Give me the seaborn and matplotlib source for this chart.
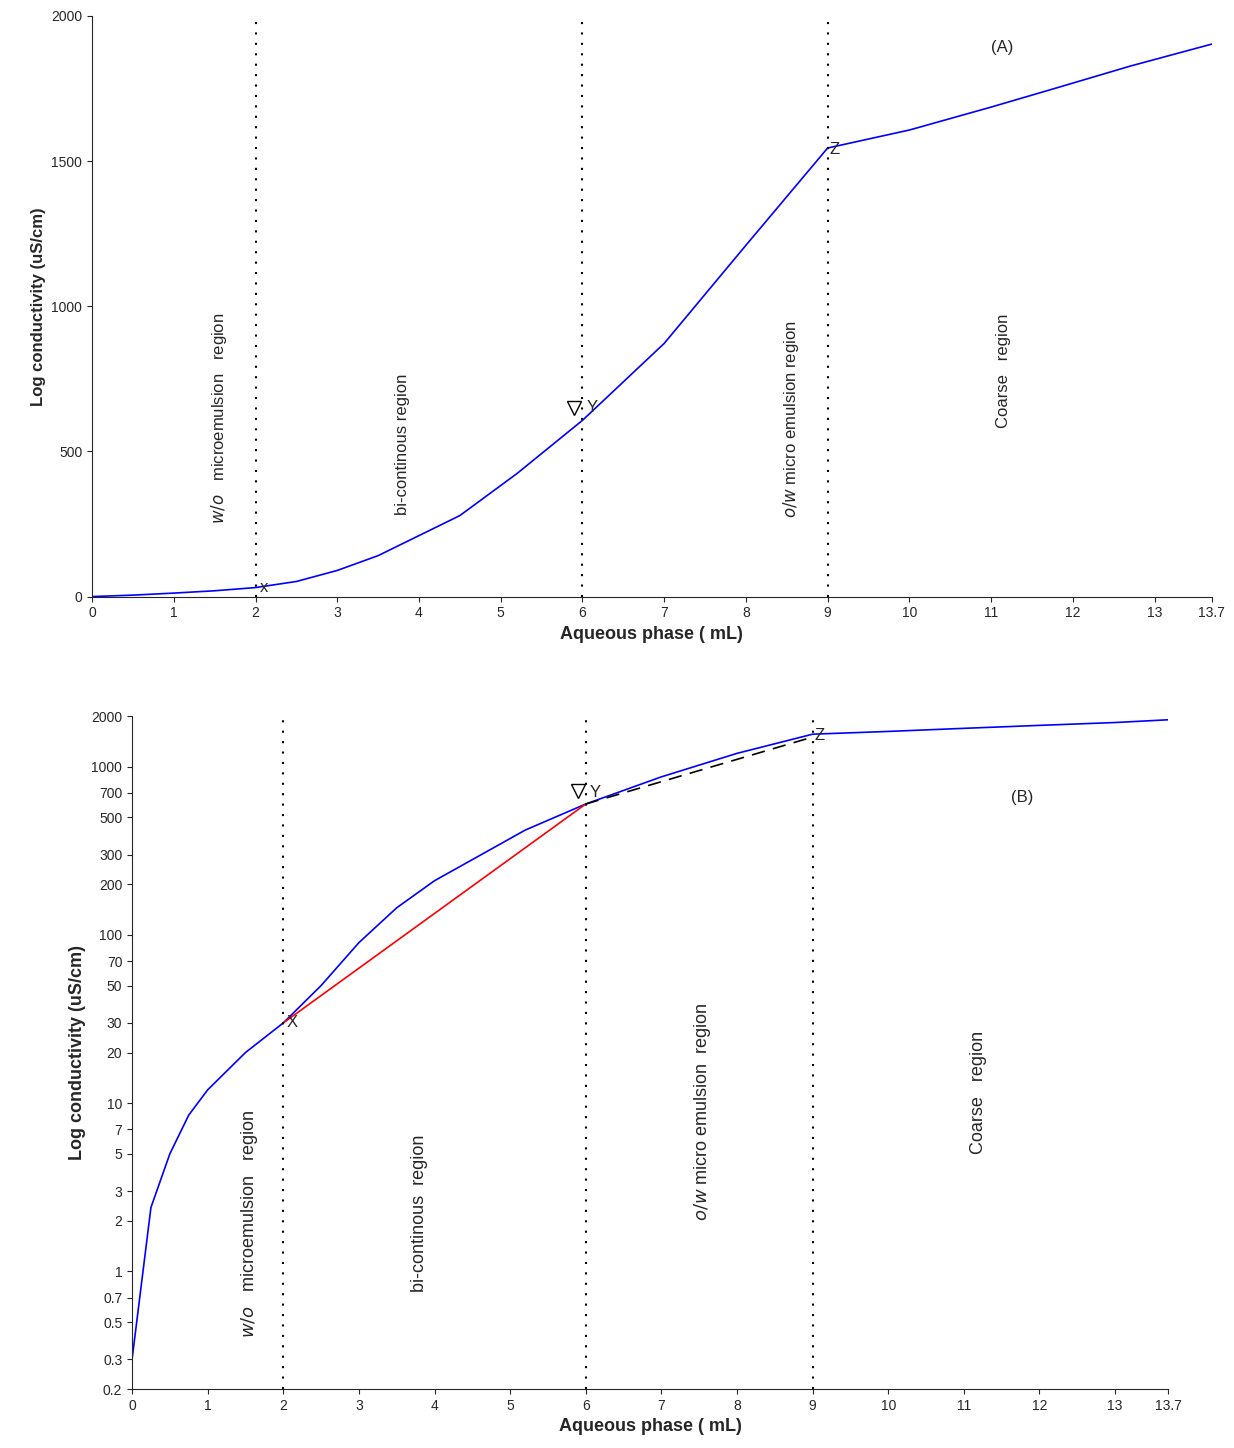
import matplotlib
matplotlib.use("Agg")
import matplotlib.pyplot as plt
import seaborn as sns
import pandas as pd

sns.set_style("ticks")
plt.rcParams['font.family'] = ['Liberation Sans', 'DejaVu Sans']

# data
aq_top = [0, 0.5, 1, 1.5, 2, 2.5, 3, 3.5, 4, 4.5, 5.2, 6, 7, 8, 9, 10, 11, 11.8, 12.7, 13.7]
cond_top = [0, 5, 12, 20, 31, 52, 90, 141, 210, 279, 424, 607, 872, 1210, 1545, 1607, 1686, 1752, 1827, 1903]

aq_bot = [0, 0.25, 0.5, 0.75, 1, 1.5, 2, 2.5, 3, 3.5, 4, 5.2, 6, 7, 8, 9, 10, 11, 12, 13, 13.7]
cond_bot = [0.3, 2.4, 5, 8.5, 12, 20, 30, 50, 90, 145, 210, 420, 600, 870, 1200, 1560, 1620, 1690, 1760, 1830, 1900]
red_x = [2, 6]
red_y = [30, 600]
dash_x = [6, 9]
dash_y = [600, 1500]

boundaries = [2, 6, 9]
xticks = list(range(0, 14)) + [13.7]
xticklabels = [str(i) for i in range(0, 14)] + ["13.7"]
log_ticks = [0.2, 0.3, 0.5, 0.7, 1, 2, 3, 5, 7, 10, 20, 30, 50, 70, 100, 200, 300, 500, 700, 1000, 2000]

fig = plt.figure(figsize=(12.34, 14.48), dpi=100)
ax1 = fig.add_axes([0.0746, 0.588, 0.9074, 0.401])
ax2 = fig.add_axes([0.107, 0.0407, 0.8395, 0.4648])

# panel A
sns.lineplot(x=aq_top, y=cond_top, ax=ax1, color="blue", lw=1.2)
ax1.set_xlim(0, 13.7)
ax1.set_ylim(0, 2000)
ax1.set_yticks([0, 500, 1000, 1500, 2000])
ax1.set_xticks(xticks)
ax1.set_xticklabels(xticklabels)
for b in boundaries:
    ax1.axvline(b, color="black", ls=(0, (1, 4)), lw=1.5)
ax1.set_xlabel("Aqueous phase ( mL)", fontsize=13, fontweight="bold")
ax1.set_ylabel("Log conductivity (uS/cm)", fontsize=12, fontweight="bold")
ax1.text(11.13, 1890, "(A)", fontsize=12, ha="center", va="center")
ax1.text(2.05, 30, "x", fontsize=12, va="center")
ax1.text(6.05, 650, "Y", fontsize=12, va="center")
ax1.plot([5.9], [650], marker="v", mfc="none", mec="black", ms=10)
ax1.text(9.02, 1540, "Z", fontsize=12, va="center")
ax1.text(1.55, 250, "$w/o$   microemulsion   region", rotation=90, fontsize=12, ha="center", va="bottom")
ax1.text(3.8, 280, "bi-continous region", rotation=90, fontsize=12, ha="center", va="bottom")
ax1.text(8.55, 270, "$o/w$ micro emulsion region", rotation=90, fontsize=12, ha="center", va="bottom")
ax1.text(11.15, 580, "Coarse   region", rotation=90, fontsize=12, ha="center", va="bottom")

# panel B
sns.lineplot(x=aq_bot, y=cond_bot, ax=ax2, color="blue", lw=1.2)
sns.lineplot(x=red_x, y=red_y, ax=ax2, color="red", lw=1.2)
ax2.plot(dash_x, dash_y, color="black", ls=(0, (8, 5)), lw=1.2)
ax2.set_yscale("log")
ax2.set_xlim(0, 13.7)
ax2.set_ylim(0.2, 2000)
ax2.set_yticks(log_ticks)
ax2.set_yticklabels([f"{t:g}" for t in log_ticks])
ax2.minorticks_off()
ax2.set_xticks(xticks)
ax2.set_xticklabels(xticklabels)
for b in boundaries:
    ax2.axvline(b, color="black", ls=(0, (1, 4)), lw=1.5)
ax2.set_xlabel("Aqueous phase ( mL)", fontsize=13, fontweight="bold")
ax2.set_ylabel("Log conductivity (uS/cm)", fontsize=13, fontweight="bold")
ax2.text(11.77, 660, "(B)", fontsize=12, ha="center", va="center")
ax2.text(2.05, 30, "X", fontsize=12, va="center")
ax2.text(6.05, 700, "Y", fontsize=12, va="center")
ax2.plot([5.9], [720], marker="v", mfc="none", mec="black", ms=10)
ax2.text(9.02, 1540, "Z", fontsize=12, va="center")
ax2.text(1.55, 0.4, "$w/o$   microemulsion   region", rotation=90, fontsize=13, ha="center", va="bottom")
ax2.text(3.8, 0.75, "bi-continous  region", rotation=90, fontsize=13, ha="center", va="bottom")
ax2.text(7.55, 2.0, "$o/w$ micro emulsion  region", rotation=90, fontsize=13, ha="center", va="bottom")
ax2.text(11.2, 5.0, "Coarse   region", rotation=90, fontsize=13, ha="center", va="bottom")

for ax in (ax1, ax2):
    sns.despine(ax=ax)
    ax.tick_params(labelsize=10)

fig.savefig("out.png", dpi=100)
